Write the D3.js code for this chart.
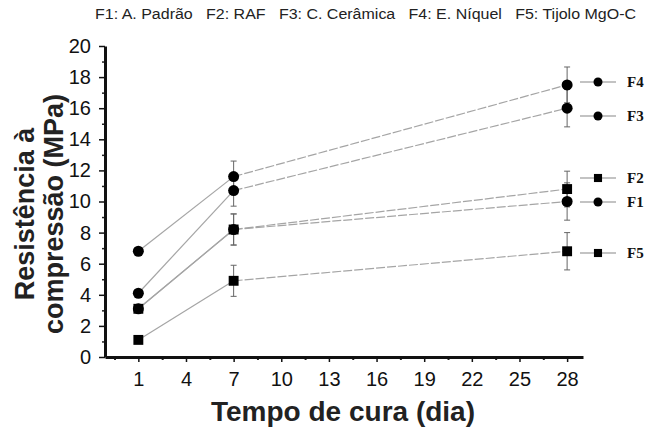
<!DOCTYPE html>
<html>
<head>
<meta charset="utf-8">
<script src="https://cdn.jsdelivr.net/npm/d3@7"></script>
<style>
  body { margin: 0; background: #fff; }
</style>
</head>
<body>
<div id="root"></div>
<script>
// dados
var days = [1, 7, 28];
var codes = ["F1", "F2", "F3", "F4", "F5"];
var names = ["A. Padrão", "RAF", "C. Cerâmica", "E. Níquel", "Tijolo MgO-C"];
var f1 = [3.1, 8.2, 10.0];
var f2 = [3.1, 8.2, 10.8];
var f3 = [4.1, 10.7, 16.0];
var f4 = [6.8, 11.6, 17.5];
var f5 = [1.1, 4.9, 6.8];
var e1 = [0, 1.0, 1.2];
var e2 = [0, 1.0, 1.15];
var e3 = [0, 1.0, 1.2];
var e4 = [0, 1.0, 1.15];
var e5 = [0, 1.0, 1.2];
var symbols = ["circle", "square", "circle", "circle", "square"];
var xTicks = [1, 4, 7, 10, 13, 16, 19, 22, 25, 28];
var yTicks = [0, 2, 4, 6, 8, 10, 12, 14, 16, 18, 20];

var values = [f1, f2, f3, f4, f5];
var errors = [e1, e2, e3, e4, e5];
// posição vertical das legendas (px)
var legendY = [202, 178, 116, 82, 253];

var sans = "'Liberation Sans', Arial, sans-serif";
var serif = "'Liberation Serif', 'Times New Roman', serif";

var svgWidth = 646, svgHeight = 429;
var svg = d3.select("#root").append("svg")
    .attr("width", svgWidth)
    .attr("height", svgHeight)
    .style("font-family", sans);

var x = d3.scaleLinear().domain([-1.1, 29]).range([105, 583]);
var y = d3.scaleLinear().domain([0, 20]).range([357, 46]);

// título superior (esticado como no original)
svg.append("text")
    .attr("x", 95)
    .attr("y", 19)
    .attr("font-size", 14)
    .attr("fill", "#222")
    .attr("textLength", 541)
    .attr("lengthAdjust", "spacingAndGlyphs")
    .style("white-space", "pre")
    .text(codes.map(function (c, i) { return c + ": " + names[i]; }).join("   "));

// eixo y
var yMinor = d3.range(1, 20, 2);
svg.append("g")
    .attr("transform", "translate(" + x.range()[0] + ",0)")
    .call(d3.axisLeft(y).tickValues(yMinor).tickSize(3).tickFormat(""))
    .call(function (g) { g.select(".domain").remove(); g.selectAll("line").attr("stroke", "#222").attr("stroke-width", 1.5); });

var yAxis = svg.append("g")
    .attr("transform", "translate(" + x.range()[0] + ",0)")
    .call(d3.axisLeft(y).tickValues(yTicks).tickSize(6).tickSizeOuter(0).tickPadding(8));
yAxis.select(".domain").attr("stroke", "#111").attr("stroke-width", 3);
yAxis.selectAll("line").attr("stroke", "#111").attr("stroke-width", 1.5);
yAxis.selectAll("text").attr("font-size", 20).attr("fill", "#111").style("font-family", sans);

// eixo x
var xMinor = d3.range(-0.5, 28, 3);
svg.append("g")
    .attr("transform", "translate(0," + y(0) + ")")
    .call(d3.axisBottom(x).tickValues(xMinor).tickSize(3).tickFormat(""))
    .call(function (g) { g.select(".domain").remove(); g.selectAll("line").attr("stroke", "#222").attr("stroke-width", 2); });

var xAxis = svg.append("g")
    .attr("transform", "translate(0," + y(0) + ")")
    .call(d3.axisBottom(x).tickValues(xTicks).tickSize(5).tickSizeOuter(0).tickPadding(10));
xAxis.select(".domain").attr("stroke", "#111").attr("stroke-width", 3);
xAxis.selectAll("line").attr("stroke", "#111").attr("stroke-width", 1.5);
xAxis.selectAll("text").attr("font-size", 20).attr("fill", "#111").style("font-family", sans);

// títulos dos eixos
svg.append("text")
    .attr("x", 343)
    .attr("y", 421)
    .attr("text-anchor", "middle")
    .attr("font-size", 28)
    .attr("font-weight", "bold")
    .attr("fill", "#222")
    .text("Tempo de cura (dia)");

var yTitle = svg.append("text")
    .attr("transform", "translate(0,214) rotate(-90)")
    .attr("text-anchor", "middle")
    .attr("font-size", 27)
    .attr("font-weight", "bold")
    .attr("fill", "#222");
yTitle.append("tspan").attr("x", 0).attr("y", 34).text("Resistência à");
yTitle.append("tspan").attr("x", 0).attr("y", 63).text("compressão (MPa)");

// linhas
var plot = svg.append("g");
values.forEach(function (vals, s) {
    for (var i = 0; i < days.length - 1; i++) {
        plot.append("line")
            .attr("x1", x(days[i])).attr("y1", y(vals[i]))
            .attr("x2", x(days[i + 1])).attr("y2", y(vals[i + 1]))
            .attr("stroke", "#a5a5a5")
            .attr("stroke-width", 1.2)
            .attr("stroke-dasharray", i === 0 ? null : "9,2");
    }
});

// barras de erro
values.forEach(function (vals, s) {
    vals.forEach(function (v, i) {
        var e = errors[s][i];
        if (!e) return;
        var cx = x(days[i]);
        var g = plot.append("g").attr("stroke", "#666").attr("stroke-width", 1);
        g.append("line").attr("x1", cx).attr("x2", cx).attr("y1", y(v - e)).attr("y2", y(v + e));
        g.append("line").attr("x1", cx - 3).attr("x2", cx + 3).attr("y1", y(v - e)).attr("y2", y(v - e));
        g.append("line").attr("x1", cx - 3).attr("x2", cx + 3).attr("y1", y(v + e)).attr("y2", y(v + e));
    });
});

// marcadores
function drawMarker(g, type, cx, cy, size) {
    if (type === "circle") {
        g.append("circle").attr("cx", cx).attr("cy", cy).attr("r", size / 2).attr("fill", "#000");
    } else {
        var s = size * 0.9;
        g.append("rect").attr("x", cx - s / 2).attr("y", cy - s / 2)
            .attr("width", s).attr("height", s).attr("fill", "#000");
    }
}
values.forEach(function (vals, s) {
    vals.forEach(function (v, i) {
        drawMarker(plot, symbols[s], x(days[i]), y(v), 11);
    });
});

// legenda
codes.forEach(function (c, i) {
    var g = svg.append("g").attr("transform", "translate(0," + legendY[i] + ")");
    g.append("line").attr("x1", 580).attr("x2", 616).attr("y1", 0).attr("y2", 0)
        .attr("stroke", "#888").attr("stroke-width", 1.2);
    drawMarker(g, symbols[i], 598, 0, 9);
    g.append("text")
        .attr("x", 627)
        .attr("y", 5)
        .attr("font-weight", "bold")
        .attr("font-size", 15)
        .attr("fill", "#111")
        .style("font-family", serif)
        .text(c);
});
</script>
</body>
</html>
